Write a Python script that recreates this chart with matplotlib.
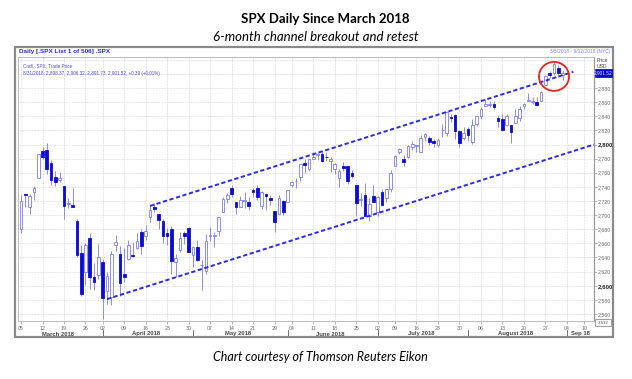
import matplotlib
matplotlib.use('Agg')
import matplotlib.pyplot as plt
import matplotlib.transforms as mtransforms
from matplotlib.patches import Rectangle, Ellipse
import numpy as np
import pandas as pd

W, H = 632, 379

# ---------------- data ----------------
opens = [2681, 2730, 2711, 2733, 2753, 2791, 2792, 2774, 2754, 2750,
         2741, 2716, 2714, 2691, 2646, 2619, 2667, 2612, 2615,
         2633, 2592, 2584, 2657, 2645, 2617, 2638, 2643, 2653, 2676,
         2670, 2697, 2711, 2701, 2692, 2675, 2680, 2634, 2651, 2675,
         2682, 2643, 2655, 2629, 2621, 2670, 2670, 2678, 2705, 2723,
         2738, 2719, 2712, 2720, 2718, 2735, 2739, 2713, 2730, 2724,
         2706, 2702, 2720, 2718, 2742, 2748, 2754, 2774, 2765,
         2780, 2785, 2787, 2783, 2777, 2765, 2752, 2769, 2769, 2760,
         2742, 2722, 2729, 2699, 2727, 2705, 2733, 2724, 2737,
         2769, 2789, 2779, 2783, 2797, 2798, 2789, 2811, 2809, 2805,
         2799, 2820, 2817, 2839, 2842, 2819, 2809, 2822, 2803, 2829,
         2841, 2855, 2856, 2857, 2838, 2836, 2827, 2827, 2831, 2838,
         2854, 2861, 2860, 2860, 2862, 2885, 2901, 2901, 2909, 2898]
highs = [2728, 2732, 2730, 2741, 2787, 2797, 2802, 2778, 2763, 2761,
         2741, 2724, 2739, 2695, 2657, 2661, 2675, 2632, 2659,
         2638, 2619, 2649, 2672, 2656, 2654, 2665, 2662, 2674, 2680,
         2686, 2713, 2717, 2702, 2694, 2682, 2684, 2645, 2676, 2678,
         2683, 2655, 2665, 2637, 2673, 2683, 2676, 2698, 2726, 2732,
         2742, 2719, 2727, 2733, 2725, 2739, 2742, 2734, 2731, 2728,
         2706, 2729, 2722, 2736, 2749, 2752, 2772, 2779, 2779,
         2790, 2789, 2791, 2789, 2782, 2774, 2765, 2775, 2770, 2764,
         2742, 2732, 2746, 2724, 2743, 2727, 2737, 2737, 2764,
         2785, 2795, 2785, 2799, 2805, 2799, 2814, 2816, 2812, 2808,
         2809, 2829, 2848, 2843, 2843, 2821, 2825, 2825, 2836, 2841,
         2853, 2864, 2862, 2862, 2842, 2843, 2843, 2827, 2850, 2855,
         2859, 2873, 2867, 2868, 2876, 2898, 2904, 2917, 2912, 2906]
lows = [2675, 2712, 2701, 2722, 2752, 2780, 2758, 2743, 2741, 2747,
        2694, 2710, 2711, 2641, 2586, 2601, 2596, 2594, 2609,
        2553, 2574, 2573, 2649, 2586, 2605, 2636, 2640, 2652, 2645,
        2665, 2690, 2704, 2681, 2660, 2657, 2617, 2612, 2648, 2659,
        2648, 2626, 2635, 2594, 2616, 2664, 2655, 2670, 2705, 2717,
        2725, 2701, 2712, 2710, 2707, 2726, 2721, 2709, 2707, 2714,
        2676, 2702, 2700, 2718, 2740, 2739, 2748, 2760, 2763,
        2779, 2778, 2775, 2776, 2761, 2758, 2740, 2762, 2744, 2752,
        2699, 2713, 2699, 2692, 2718, 2699, 2713, 2719, 2733,
        2769, 2786, 2770, 2781, 2792, 2790, 2789, 2805, 2799, 2796,
        2796, 2811, 2812, 2832, 2808, 2797, 2806, 2805, 2801, 2826,
        2836, 2855, 2853, 2851, 2825, 2819, 2826, 2802, 2831, 2834,
        2850, 2861, 2857, 2854, 2862, 2885, 2894, 2898, 2895, 2892]
closes = [2720, 2728, 2727, 2739, 2786, 2783, 2765, 2750, 2747, 2752,
          2713, 2717, 2711, 2644, 2588, 2658, 2612, 2605, 2641,
          2582, 2614, 2645, 2662, 2604, 2613, 2657, 2642, 2664, 2656,
          2678, 2707, 2708, 2693, 2670, 2670, 2635, 2639, 2667, 2670,
          2648, 2655, 2636, 2630, 2663, 2672, 2672, 2697, 2723, 2728,
          2730, 2711, 2722, 2720, 2713, 2733, 2725, 2733, 2727, 2721,
          2690, 2724, 2705, 2735, 2747, 2749, 2772, 2771, 2779,
          2782, 2786, 2776, 2782, 2780, 2773, 2762, 2767, 2749, 2755,
          2717, 2723, 2699, 2716, 2718, 2726, 2714, 2737, 2760,
          2784, 2793, 2775, 2798, 2801, 2798, 2809, 2815, 2804, 2802,
          2806, 2820, 2846, 2837, 2819, 2802, 2816, 2813, 2827, 2840,
          2850, 2858, 2857, 2853, 2833, 2821, 2840, 2818, 2840, 2850,
          2857, 2863, 2862, 2856, 2875, 2897, 2898, 2914, 2901, 2902]

holidays = ['2018-03-30', '2018-05-28', '2018-07-04', '2018-09-03']
axis_dates = pd.bdate_range('2018-03-05', '2018-09-14')
axis_dates = axis_dates[~axis_dates.isin(pd.to_datetime(holidays))]

month_labels = ['March 2018', 'April 2018', 'May 2018', 'June 2018',
                'July 2018', 'August 2018', 'Sep 18']
price_ticks = list(range(2560, 2881, 20))
bold_ticks = [2600, 2800]

# channel lines (trading-day index, price)
upper_idx = [30, 128.5]
upper_px = [2713, 2903]
lower_idx = [20, 133.3]
lower_px = [2581, 2800]
circle_center = (124, 2896.5)

last_price_label = '2,901.52'

# ---------------- figure ----------------
fig = plt.figure(figsize=(W / 100, H / 100), dpi=100)
fig.patch.set_facecolor('white')


def fx(px):
    return px / W


def fy(py):
    return 1 - py / H


TFONT = ['Lato', 'DejaVu Sans']
SFONT = ['Liberation Sans', 'DejaVu Sans']

fig.text(fx(325), fy(19), 'SPX Daily Since March 2018', ha='center', va='center',
         fontsize=9.5, fontweight='bold', family=TFONT, color='black')
fig.text(fx(316), fy(37), '6-month channel breakout and retest', ha='center', va='center',
         fontsize=9.5, style='italic', family=TFONT, color='black')
fig.text(fx(320), fy(357), 'Chart courtesy of Thomson Reuters Eikon', ha='center', va='center',
         fontsize=9, style='italic', family=TFONT, color='black')

# outer frame
frame = Rectangle((fx(15), fy(337)), fx(613) - fx(15), fy(47) - fy(337),
                  transform=fig.transFigure, fill=False, edgecolor='#8a8a8a', lw=1.6)
fig.add_artist(frame)
fig.text(fx(19), fy(52), 'Daily [.SPX List 1 of 506] .SPX', ha='left', va='center',
         fontsize=4.6, fontweight='bold', family=SFONT, color='#2a2ad8')
fig.text(fx(610), fy(52), '3/5/2018 - 9/12/2018 (NYC)', ha='right', va='center',
         fontsize=3.5, family=SFONT, color='#8080ee')

# main axes
ax = fig.add_axes([fx(18), fy(321), fx(594) - fx(18), fy(57) - fy(321)])
ax.set_xlim(-0.7, 133.3)
ax.set_ylim(2550, 2924)

x = np.arange(len(closes))
up_col = '#7c7cf0'
dn_col = '#0c0cd0'
bw = 0.62
for i in x:
    o, h, l, c = opens[i], highs[i], lows[i], closes[i]
    rising = c >= o
    col = up_col if rising else dn_col
    ax.vlines(i, l, h, color='#8a8af2', lw=0.7, zorder=3)
    lo, hi = min(o, c), max(o, c)
    ax.add_patch(Rectangle((i - bw / 2, lo), bw, max(hi - lo, 0.8),
                           facecolor='white' if rising else dn_col,
                           edgecolor=col, lw=0.6, zorder=4))

# channel lines
ax.plot(upper_idx, upper_px, color='#2b2be2', lw=1.4, ls=(0, (2.2, 1.3)), zorder=5)
ax.plot(lower_idx, lower_px, color='#2b2be2', lw=1.4, ls=(0, (2.2, 1.3)), zorder=5)

# red circle
ell = Ellipse(circle_center, width=7.0, height=41, fill=False, edgecolor='#e02424', lw=1.3, zorder=6)
ax.add_patch(ell)

# weekly ticks (first trading day of each week)
wk = pd.Series(np.arange(len(axis_dates)), index=axis_dates)
week_key = axis_dates.to_period('W')
first_idx = wk.groupby(week_key).min().values
tick_pos = [p for p in first_idx if p <= 133]
tick_lbl = [axis_dates[p].strftime('%d') for p in tick_pos]
ax.set_xticks(tick_pos)
ax.set_xticklabels(tick_lbl, fontsize=3.8, color='#666666', family=SFONT)
ax.tick_params(axis='x', length=2, width=0.5, color='#999999', pad=1.5)

# month separators and labels
mkey = axis_dates.to_period('M')
mfirst = wk.groupby(mkey).min().values
mlast = wk.groupby(mkey).max().values
trans = mtransforms.blended_transform_factory(ax.transData, fig.transFigure)
for k, lbl in enumerate(month_labels):
    s = mfirst[k]
    e = min(mlast[k], 133.3)
    if k == 0:
        s0 = -0.7
    else:
        s0 = s
    if k > 0:
        ax.plot([s, s], [fy(330), fy(337)], transform=trans, color='#333333', lw=0.5, clip_on=False)
    ax.text((s0 + e) / 2, fy(334), lbl, transform=trans, ha='center', va='center',
            fontsize=4.2, fontweight='bold', color='#444444', family=SFONT)

# y axis on right
ax.yaxis.tick_right()
ax.set_yticks(price_ticks)
ax.set_yticklabels([f'{v:,}' for v in price_ticks], fontsize=3.8, color='#666666', family=SFONT)
for t, v in zip(ax.get_yticklabels(), price_ticks):
    if v in bold_ticks:
        t.set_fontweight('bold')
        t.set_color('#222222')
        t.set_fontsize(4.4)
ax.tick_params(axis='y', length=2, width=0.5, color='#999999', pad=1)

# grid
for v in range(2560, 2921, 20):
    ax.axhline(v, color='#c9c9c9', lw=0.5, ls=(0, (1, 1.2)), zorder=0)
for p in tick_pos:
    ax.axvline(p, color='#c9c9c9', lw=0.5, ls=(0, (1, 1.2)), zorder=0)

for side in ['top', 'left', 'bottom']:
    ax.spines[side].set_color('#b0b0b0')
    ax.spines[side].set_linewidth(0.6)
ax.spines['right'].set_color('#9a9a9a')
ax.spines['right'].set_linewidth(0.9)

# legend text in plot
ax.text(0.008, 0.975, 'Cndl, .SPX, Trade Price', transform=ax.transAxes, ha='left', va='top',
        fontsize=3.3, color='#4a4ad6', family=SFONT)
ax.text(0.008, 0.948, '8/31/2018: 2,898.37, 2,906.32, 2,891.73, 2,901.52, +0.39 (+0.01%)',
        transform=ax.transAxes, ha='left', va='top', fontsize=3.3, color='#4a4ad6', family=SFONT)

# right side labels
fig.text(fx(597), fy(60), 'Price', ha='left', va='center', fontsize=3.6, color='#444444', family=SFONT)
fig.text(fx(597), fy(66), 'USD', ha='left', va='center', fontsize=3.6, color='#444444', family=SFONT)
fig.add_artist(Rectangle((fx(595), fy(76.5)), fx(612) - fx(595), fy(69) - fy(76.5),
                         transform=fig.transFigure, facecolor='#0000cc', edgecolor='#0000cc', lw=0.5))
fig.text(fx(603.5), fy(72.8), last_price_label, ha='center', va='center', fontsize=3.4,
         color='white', family=SFONT)
fig.add_artist(Rectangle((fx(595), fy(326)), fx(611) - fx(595), fy(319) - fy(326),
                         transform=fig.transFigure, facecolor='white', edgecolor='#777777', lw=0.5))
fig.text(fx(603), fy(322.5), '2,532', ha='center', va='center', fontsize=3.2,
         color='#444444', family=SFONT)

fig.savefig('out.png', dpi=100, facecolor='white')
